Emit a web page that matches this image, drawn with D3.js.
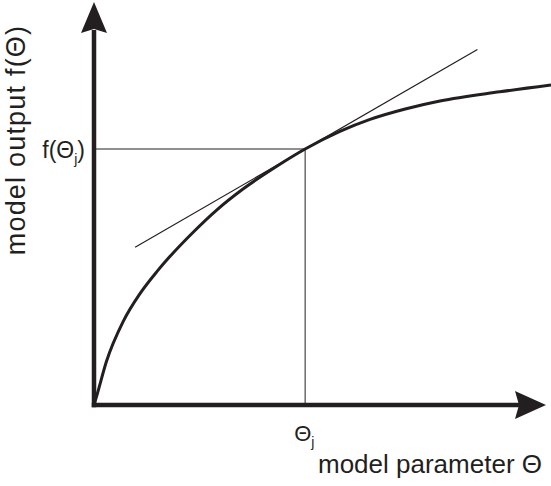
<!DOCTYPE html>
<html>
<head>
<meta charset="utf-8">
<script src="https://cdn.jsdelivr.net/npm/d3@7"></script>
<style>
  html, body { margin: 0; padding: 0; background: #fff; }
  svg { display: block; }
  text { font-family: "Liberation Sans", Arial, Helvetica, sans-serif; fill: #231f20; }
</style>
</head>
<body>
<script>
// Model response curve f(Θ) sampled along the parameter axis
const theta = [0, 0.07, 0.27, 0.64, 1.01, 1.38, 1.62, 2.17, 2.69, 3.26, 4.00, 4.62, 5.38, 6.04, 6.81, 7.57, 8.88, 10.0];
const fTheta = [0, 0.27, 1.08, 2.09, 2.79, 3.34, 3.66, 4.32, 4.88, 5.40, 5.97, 6.40, 6.84, 7.14, 7.40, 7.60, 7.83, 8.00];

// Operating point Θj and the local tangent through it
const thetaJ = 4.62;
const fThetaJ = 6.40;
const tangentSlope = 0.66;
const tangentSpan = [0.90, 8.39];

// Axis and annotation labels
const xAxisLabel = "model parameter Θ";
const yAxisLabel = "model output f(Θ)";

const W = 551, H = 486;
const ink = "#231f20";

const x = d3.scaleLinear().domain([0, 10]).range([94, 551]);
const y = d3.scaleLinear().domain([0, 10]).range([405, 5]);

const svg = d3.select("body").append("svg")
  .attr("width", W).attr("height", H);

// Drop lines from the operating point to both axes
svg.append("line")
  .attr("x1", x(0)).attr("x2", x(thetaJ))
  .attr("y1", y(fThetaJ)).attr("y2", y(fThetaJ))
  .attr("stroke", ink).attr("stroke-width", 1);
svg.append("line")
  .attr("x1", x(thetaJ)).attr("x2", x(thetaJ))
  .attr("y1", y(fThetaJ)).attr("y2", y(0))
  .attr("stroke", ink).attr("stroke-width", 1);

// Tangent line
const tangent = t => fThetaJ + tangentSlope * (t - thetaJ);
svg.append("line")
  .attr("x1", x(tangentSpan[0])).attr("y1", y(tangent(tangentSpan[0])))
  .attr("x2", x(tangentSpan[1])).attr("y2", y(tangent(tangentSpan[1])))
  .attr("stroke", ink).attr("stroke-width", 1.2);

// Response curve
const pts = theta.map((t, i) => [t, fTheta[i]]);
svg.append("path")
  .datum(pts)
  .attr("fill", "none")
  .attr("stroke", ink)
  .attr("stroke-width", 3)
  .attr("d", d3.line().x(d => x(d[0])).y(d => y(d[1])).curve(d3.curveMonotoneX));

// Axes with arrow heads
const axisW = 4.5;
svg.append("line")
  .attr("x1", x(0)).attr("x2", x(0))
  .attr("y1", y(0) + axisW / 2).attr("y2", 30)
  .attr("stroke", ink).attr("stroke-width", axisW);
svg.append("line")
  .attr("x1", x(0) - axisW / 2).attr("x2", 520)
  .attr("y1", y(0)).attr("y2", y(0))
  .attr("stroke", ink).attr("stroke-width", axisW);

svg.append("path")
  .attr("d", d3.line()([[x(0), 2], [x(0) + 13, 33], [x(0), 29], [x(0) - 13, 33]]) + "Z")
  .attr("fill", ink);
svg.append("path")
  .attr("d", d3.line()([[546, y(0)], [515, y(0) - 14], [519, y(0)], [515, y(0) + 14]]) + "Z")
  .attr("fill", ink);

// Axis titles
svg.append("text")
  .attr("transform", `translate(25, ${140}) rotate(-90)`)
  .attr("text-anchor", "middle")
  .attr("font-size", 27)
  .attr("letter-spacing", 1.2)
  .text(yAxisLabel);

svg.append("text")
  .attr("x", 318).attr("y", 473)
  .attr("font-size", 26)
  .text(xAxisLabel);

// Operating-point labels
const fj = svg.append("text")
  .attr("x", 85).attr("y", 158)
  .attr("text-anchor", "end")
  .attr("font-size", 23);
fj.append("tspan").text("f(Θ");
fj.append("tspan").attr("font-size", 14).attr("dy", 6).text("j");
fj.append("tspan").attr("dy", -6).text(")");

const tj = svg.append("text")
  .attr("x", x(thetaJ) - 11).attr("y", 441)
  .attr("font-size", 22);
tj.append("tspan").text("Θ");
tj.append("tspan").attr("font-size", 14).attr("dy", 6).text("j");
</script>
</body>
</html>
